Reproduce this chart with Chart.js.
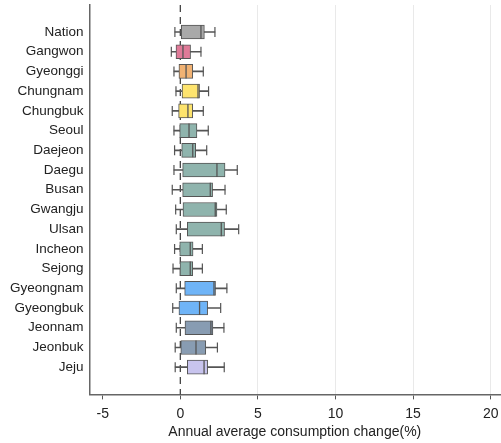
<!DOCTYPE html>
<html>
<head>
<meta charset="utf-8">
<script src="https://cdn.jsdelivr.net/npm/chart.js@4"></script>
<style>
  html, body { margin: 0; padding: 0; background: #fff; }
  #wrap { width: 501px; height: 443px; }
</style>
</head>
<body>
<div id="wrap"><canvas id="c" width="501" height="443"></canvas></div>
<script>
// regions, top to bottom
const regions = ["Nation", "Gangwon", "Gyeonggi", "Chungnam", "Chungbuk", "Seoul", "Daejeon", "Daegu", "Busan",
  "Gwangju", "Ulsan", "Incheon", "Sejong", "Gyeongnam", "Gyeongbuk", "Jeonnam", "Jeonbuk", "Jeju"];

// box plot stats (%)
const whiskerLow = [-0.35, -0.58, -0.41, -0.28, -0.52, -0.41, -0.37, -0.41, -0.52, -0.30, -0.26, -0.37, -0.47, -0.26, -0.49, -0.26, -0.33, -0.33];
const q1 =         [0.06, -0.28, -0.09, 0.11, -0.11, -0.04, 0.09, 0.15, 0.15, 0.17, 0.45, -0.04, -0.02, 0.28, -0.09, 0.30, 0.03, 0.45];
const median =     [1.33, 0.17, 0.37, 1.14, 0.49, 0.56, 0.80, 2.36, 1.93, 2.25, 2.64, 0.64, 0.64, 2.17, 1.24, 1.97, 1.01, 1.53];
const q3 =         [1.55, 0.66, 0.80, 1.24, 0.80, 1.07, 0.99, 2.88, 2.08, 2.36, 2.85, 0.82, 0.80, 2.27, 1.76, 2.10, 1.64, 1.76];
const whiskerHigh = [2.23, 1.33, 1.48, 1.82, 1.48, 1.80, 1.70, 3.67, 2.88, 2.96, 3.76, 1.42, 1.42, 3.00, 2.60, 2.81, 2.39, 2.83];

const xTicks = [-5, 0, 5, 10, 15, 20];

const boxColors = ["#a9a9a9", "#e07a98", "#f1b273", "#fee46e", "#fde36c",
  "#8fb4ad", "#8fb4ad", "#8fb4ad", "#8fb4ad", "#8fb4ad", "#8fb4ad", "#8fb4ad", "#8fb4ad",
  "#6fb4f7", "#6fb4f7", "#889cb2", "#889cb2", "#c8c4ee"];
const edge = "#555555";
const font = "Liberation Sans, Arial";

const idx = regions.map((r, i) => i);

// dashed line at zero
const zeroLine = {
  id: "zeroLine",
  beforeDatasetsDraw(chart) {
    const { ctx, chartArea, scales } = chart;
    const x0 = scales.x.getPixelForValue(0);
    ctx.save();
    ctx.strokeStyle = "#444";
    ctx.lineWidth = 1.3;
    ctx.setLineDash([7, 5]);
    ctx.beginPath();
    ctx.moveTo(x0, chartArea.top);
    ctx.lineTo(x0, chartArea.bottom);
    ctx.stroke();
    ctx.restore();
  }
};

new Chart(document.getElementById("c"), {
  data: {
    datasets: [
      {
        type: "line",
        data: idx.map(i => ({ x: median[i], y: i })),
        showLine: false,
        pointStyle: "line",
        rotation: 90,
        radius: 7,
        pointBorderColor: edge,
        pointBorderWidth: 1.3,
        order: 1
      },
      {
        type: "bar",
        data: idx.map(i => ({ x: [q1[i], q3[i]], y: i })),
        backgroundColor: boxColors,
        borderColor: edge,
        borderWidth: 1,
        borderSkipped: false,
        barThickness: 14,
        grouped: false,
        order: 2
      },
      {
        type: "bar",
        data: idx.map(i => ({ x: [whiskerLow[i], whiskerHigh[i]], y: i })),
        backgroundColor: edge,
        borderWidth: 0,
        barThickness: 1,
        grouped: false,
        order: 3
      },
      {
        type: "line",
        data: idx.flatMap(i => [{ x: whiskerLow[i], y: i }, { x: whiskerHigh[i], y: i }]),
        showLine: false,
        pointStyle: "line",
        rotation: 90,
        radius: 5,
        pointBorderColor: edge,
        pointBorderWidth: 1.2,
        order: 3
      }
    ]
  },
  options: {
    indexAxis: "y",
    responsive: false,
    animation: false,
    layout: { autoPadding: false, padding: { left: 4, right: 1, top: 5, bottom: 2 } },
    plugins: { legend: { display: false }, tooltip: { enabled: false } },
    scales: {
      x: {
        type: "linear",
        offset: false,
        bounds: "data",
        min: -5.85,
        max: 20.6,
        afterBuildTicks: s => { s.ticks = xTicks.map(v => ({ value: v })); },
        afterFit: s => { s.paddingLeft = 0; s.paddingRight = 0; },
        grid: {
          offset: false,
          color: c => (c.tick && c.tick.value > 0 ? "#e9e9e9" : "rgba(0,0,0,0)"),
          tickColor: "#555",
          tickLength: 5,
          lineWidth: 1
        },
        border: { color: "#666", width: 1.5 },
        ticks: { color: "#222", font: { family: font, size: 14 }, padding: 6 },
        title: {
          display: true,
          text: "Annual average consumption change(%)",
          color: "#222",
          font: { family: font, size: 14 },
          padding: { top: -4, bottom: 0 }
        }
      },
      y: {
        type: "linear",
        offset: false,
        bounds: "data",
        reverse: true,
        min: -1.37,
        max: 18.38,
        afterBuildTicks: s => { s.ticks = idx.map(v => ({ value: v })); },
        afterFit: s => { s.paddingTop = 0; s.paddingBottom = 0; },
        grid: { display: false, drawTicks: false, offset: false },
        border: { color: "#666", width: 1.5 },
        ticks: {
          color: "#222",
          padding: 6,
          font: { family: font, size: 13.5 },
          callback: v => regions[v]
        }
      }
    }
  },
  plugins: [zeroLine]
});
</script>
</body>
</html>
